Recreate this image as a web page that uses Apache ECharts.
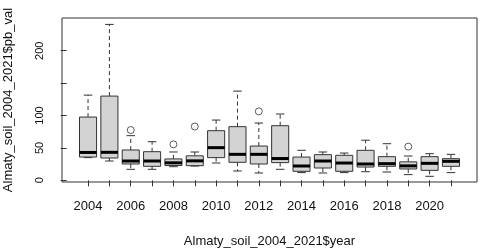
<!DOCTYPE html>
<html>
<head>
<meta charset="utf-8">
<script src="https://cdn.jsdelivr.net/npm/echarts@6/dist/echarts.min.js"></script>
<style>
html,body{margin:0;padding:0;background:#fff;}
#c{width:480px;height:250px;}
</style>
</head>
<body>
<div id="c"></div>
<script>
const years = ['2004','2005','2006','2007','2008','2009','2010','2011','2012','2013','2014','2015','2016','2017','2018','2019','2020','2021'];
const lowerWhisker = [35, 29.8, 17, 17, 21, 22, 26.7, 14.4, 11.3, 17, 11.9, 11.3, 11.9, 13.3, 12.8, 8.8, 6.2, 11.9];
const q1 =           [35.9, 34.4, 25.2, 21.6, 22.8, 22.6, 35, 27.8, 25.2, 27.3, 13.9, 19, 13.9, 20.5, 21.6, 17.5, 15.4, 21.6];
const medians =      [43, 43.2, 29.8, 29.8, 27, 30, 50.4, 40.1, 40.1, 33.6, 22.1, 29.8, 26.7, 25.2, 25.7, 22.3, 26.2, 29.3];
const q3 =           [97.6, 130, 46.8, 44.2, 33, 37.8, 76.6, 82.8, 52.9, 84.3, 35.9, 39.6, 38.6, 46.3, 36.5, 28.5, 36.5, 33.4];
const upperWhisker = [131.5, 240.6, 68.9, 59.6, 43.7, 43.7, 93, 137.7, 88.4, 102.3, 46.3, 43.7, 42.1, 61.9, 56.5, 37.5, 41.1, 40.1];
const outlierYears =  ['2006', '2008', '2009', '2012', '2019'];
const outlierValues = [77.6, 55.5, 83, 106.4, 52];
const yTicks = [0, 50, 100, 150, 200];
const yLabels = [0, 50, 100, 200];
const xLabelYears = ['2004','2006','2008','2010','2012','2014','2016','2018','2020'];

const boxData = years.map((y, i) => [i + 1, lowerWhisker[i], q1[i], medians[i], q3[i], upperWhisker[i]]);
const outData = outlierYears.map((y, i) => [years.indexOf(y) + 1, outlierValues[i]]);

const ink = '#333';
const font = 'Liberation Sans, Arial, sans-serif';
const chart = echarts.init(document.getElementById('c'), null, {renderer: 'canvas'});
chart.setOption({
  animation: false,
  backgroundColor: '#fff',
  textStyle: {fontFamily: font},
  grid: {left: 62, right: 3, top: 18, bottom: 68, containLabel: false, outerBoundsMode: 'none',
         show: true, borderColor: ink, borderWidth: 1, backgroundColor: 'transparent'},
  xAxis: {
    type: 'value', min: -0.22, max: 19.22,
    axisLine: {show: false},
    splitLine: {show: false},
    axisTick: {show: true, length: 6, lineStyle: {color: ink}, customValues: years.map((y, i) => i + 1)},
    axisLabel: {
      customValues: xLabelYears.map(y => years.indexOf(y) + 1),
      formatter: v => years[Math.round(v) - 1],
      fontSize: 13, color: '#111', margin: 18, fontFamily: font
    },
    name: 'Almaty_soil_2004_2021$year', nameLocation: 'middle', nameGap: 53,
    nameTextStyle: {fontSize: 13, color: '#111', fontFamily: font}
  },
  yAxis: {
    type: 'value', min: -2.6, max: 250.5,
    axisLine: {show: false},
    splitLine: {show: false},
    axisTick: {show: true, length: 6, lineStyle: {color: ink}, customValues: yTicks},
    axisLabel: {customValues: yLabels, rotate: 90, fontSize: 11, color: '#111', margin: 17, fontFamily: font},
    name: 'Almaty_soil_2004_2021$pb_val', nameLocation: 'middle', nameGap: 47,
    nameTextStyle: {fontSize: 13, color: '#111', fontFamily: font}
  },
  series: [
    {
      type: 'custom',
      data: boxData,
      renderItem: function (params, api) {
        const x = api.value(0);
        const lo = api.coord([x, api.value(1)]);
        const b1 = api.coord([x, api.value(2)]);
        const md = api.coord([x, api.value(3)]);
        const b3 = api.coord([x, api.value(4)]);
        const hi = api.coord([x, api.value(5)]);
        const hw = api.size([0.8, 0])[0] / 2;
        const cw = hw / 2;
        const cx = lo[0];
        const line = {stroke: ink, lineWidth: 1};
        const dashed = {stroke: ink, lineWidth: 1, lineDash: [4, 3]};
        return {
          type: 'group',
          children: [
            {type: 'line', shape: {x1: cx, y1: b3[1], x2: cx, y2: hi[1]}, style: dashed},
            {type: 'line', shape: {x1: cx, y1: b1[1], x2: cx, y2: lo[1]}, style: dashed},
            {type: 'line', shape: {x1: cx - cw, y1: hi[1], x2: cx + cw, y2: hi[1]}, style: line},
            {type: 'line', shape: {x1: cx - cw, y1: lo[1], x2: cx + cw, y2: lo[1]}, style: line},
            {type: 'rect', shape: {x: cx - hw, y: b3[1], width: hw * 2, height: b1[1] - b3[1]}, style: {fill: '#d3d3d3', stroke: ink, lineWidth: 1}},
            {type: 'line', shape: {x1: cx - hw, y1: md[1], x2: cx + hw, y2: md[1]}, style: {stroke: '#000', lineWidth: 3}}
          ]
        };
      }
    },
    {
      type: 'scatter',
      data: outData,
      symbol: 'circle',
      symbolSize: 7,
      itemStyle: {color: 'transparent', borderColor: ink, borderWidth: 1}
    }
  ]
});
</script>
</body>
</html>
